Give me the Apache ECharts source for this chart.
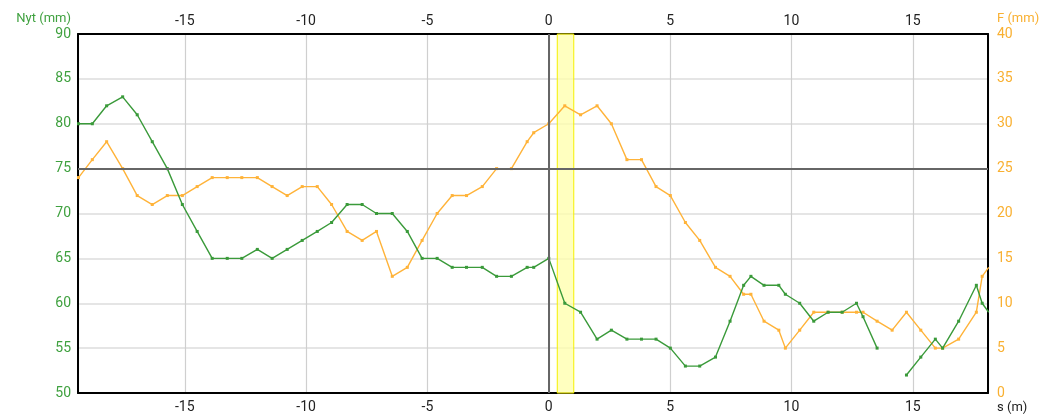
<!DOCTYPE html>
<html>
<head>
<meta charset="utf-8">
<title>Nyt / F</title>
<script src="https://cdn.jsdelivr.net/npm/echarts@6/dist/echarts.min.js"></script>
<style>
  html, body { margin: 0; padding: 0; background: #fff; }
  #chart { width: 1043px; height: 417px; }
</style>
</head>
<body>
<div id="chart"></div>
<script>
// chainage (m) of each measuring point
const positions = [
  -19.38, -18.81, -18.22, -17.56, -16.96, -16.34, -15.72, -15.10, -14.49, -13.87,
  -13.25, -12.65, -12.01, -11.40, -10.78, -10.16, -9.54, -8.95, -8.31, -7.69,
  -7.10, -6.45, -5.83, -5.22, -4.60, -3.98, -3.39, -2.74, -2.15, -1.54,
  -0.89, -0.62, 0, 0.66, 1.31, 1.99, 2.58, 3.22, 3.82, 4.42,
  5.01, 5.63, 6.22, 6.87, 7.47, 8.03, 8.33, 8.87, 9.48, 9.75,
  10.34, 10.92, 11.51, 12.09, 12.68, 12.95, 13.53, 14.15, 14.74, 15.33,
  15.93, 16.23, 16.89, 17.62, 17.86, 18.13
];
// Nyt (mm), left axis; null = no reading
const nytValues = [
  80, 80, 82, 83, 81, 78, 75, 71, 68, 65,
  65, 65, 66, 65, 66, 67, 68, 69, 71, 71,
  70, 70, 68, 65, 65, 64, 64, 64, 63, 63,
  64, 64, 65, 60, 59, 56, 57, 56, 56, 56,
  55, 53, 53, 54, 58, 62, 63, 62, 62, 61,
  60, 58, 59, 59, 60, 58.5, 55, null, 52, 54,
  56, 55, 58, 62, 60, 59
];
// F (mm), right axis
const fValues = [
  24, 26, 28, 25, 22, 21, 22, 22, 23, 24,
  24, 24, 24, 23, 22, 23, 23, 21, 18, 17,
  18, 13, 14, 17, 20, 22, 22, 23, 25, 25,
  28, 29, 30, 32, 31, 32, 30, 26, 26, 23,
  22, 19, 17, 14, 13, 11, 11, 8, 7, 5,
  7, 9, 9, 9, 9, 9, 8, 7, 9, 7,
  5, 5, 6, 9, 13, 14
];
const bandRange = [0.35, 1.03];
const refLevel = 75;

const green = '#3a9a3a';
const greenText = '#3fa13f';
const orange = '#ffb339';
const orangeText = '#f9b031';
const font = 'Roboto, "Liberation Sans", sans-serif';

const toPairs = (vals) => positions.map((x, i) => [x, vals[i] === null ? '-' : vals[i]]);
const fivesOnly = (v) => (Math.abs(v % 5) < 1e-6 ? String(Math.round(v)) : '');

const chart = echarts.init(document.getElementById('chart'), null, { renderer: 'canvas' });

const xBase = {
  type: 'value',
  min: -19.4,
  max: 18.1,
  splitNumber: 8,
  axisTick: { show: false },
  axisLine: { show: true, onZero: false, lineStyle: { color: '#000', width: 2 } }
};

chart.setOption({
  animation: false,
  backgroundColor: '#fff',
  textStyle: { fontFamily: font },
  grid: { left: 78, right: 55, top: 34, bottom: 24, containLabel: false },
  xAxis: [
    Object.assign({}, xBase, {
      position: 'bottom',
      name: 's (m)',
      nameLocation: 'end',
      nameGap: 9,
      nameTextStyle: { color: '#222', fontSize: 13, align: 'left', verticalAlign: 'top', padding: [8, 0, 0, 0] },
      axisLabel: { color: '#222', fontSize: 14, margin: 7, formatter: fivesOnly, showMinLabel: false, showMaxLabel: false },
      splitLine: { show: true, lineStyle: { color: '#cfcfcf', width: 1.2 } }
    }),
    Object.assign({}, xBase, {
      position: 'top',
      axisLabel: { color: '#222', fontSize: 14, margin: 6, formatter: fivesOnly, showMinLabel: false, showMaxLabel: false },
      splitLine: { show: false }
    })
  ],
  yAxis: [
    {
      type: 'value',
      position: 'left',
      min: 50,
      max: 90,
      interval: 5,
      name: 'Nyt (mm)',
      nameLocation: 'end',
      nameGap: 15,
      nameTextStyle: { color: greenText, fontSize: 13, align: 'right', verticalAlign: 'middle', padding: [0, 7, 0, 0] },
      axisTick: { show: false },
      axisLine: { show: true, onZero: false, lineStyle: { color: '#000', width: 2 } },
      axisLabel: { color: greenText, fontSize: 14, margin: 7 },
      splitLine: { show: true, lineStyle: { color: '#dcdcdc', width: 1.5 } }
    },
    {
      type: 'value',
      position: 'right',
      min: 0,
      max: 40,
      interval: 5,
      name: 'F (mm)',
      nameLocation: 'end',
      nameGap: 15,
      nameTextStyle: { color: orangeText, fontSize: 13, align: 'left', verticalAlign: 'middle', padding: [0, 0, 0, 9] },
      axisTick: { show: false },
      axisLine: { show: true, onZero: false, lineStyle: { color: '#000', width: 2 } },
      axisLabel: { color: orangeText, fontSize: 14, margin: 9 },
      splitLine: { show: false }
    }
  ],
  series: [
    {
      name: 'F',
      type: 'line',
      xAxisIndex: 0,
      yAxisIndex: 1,
      data: toPairs(fValues),
      symbol: 'rect',
      symbolSize: 3,
      showSymbol: true,
      lineStyle: { color: orange, width: 1.4 },
      itemStyle: { color: orange },
      z: 3,
      markArea: {
        silent: true,
        itemStyle: { color: 'rgba(255, 255, 170, 0.75)', borderColor: '#f5f000', borderWidth: 1 },
        data: [[{ xAxis: bandRange[0] }, { xAxis: bandRange[1] }]]
      }
    },
    {
      name: 'Nyt',
      type: 'line',
      xAxisIndex: 0,
      yAxisIndex: 0,
      data: toPairs(nytValues),
      connectNulls: false,
      symbol: 'rect',
      symbolSize: 3,
      showSymbol: true,
      lineStyle: { color: green, width: 1.4 },
      itemStyle: { color: green },
      z: 4,
      markLine: {
        silent: true,
        symbol: 'none',
        label: { show: false },
        lineStyle: { color: '#666', width: 2, type: 'solid' },
        data: [{ xAxis: 0 }, { yAxis: refLevel }]
      }
    }
  ]
});
</script>
</body>
</html>
